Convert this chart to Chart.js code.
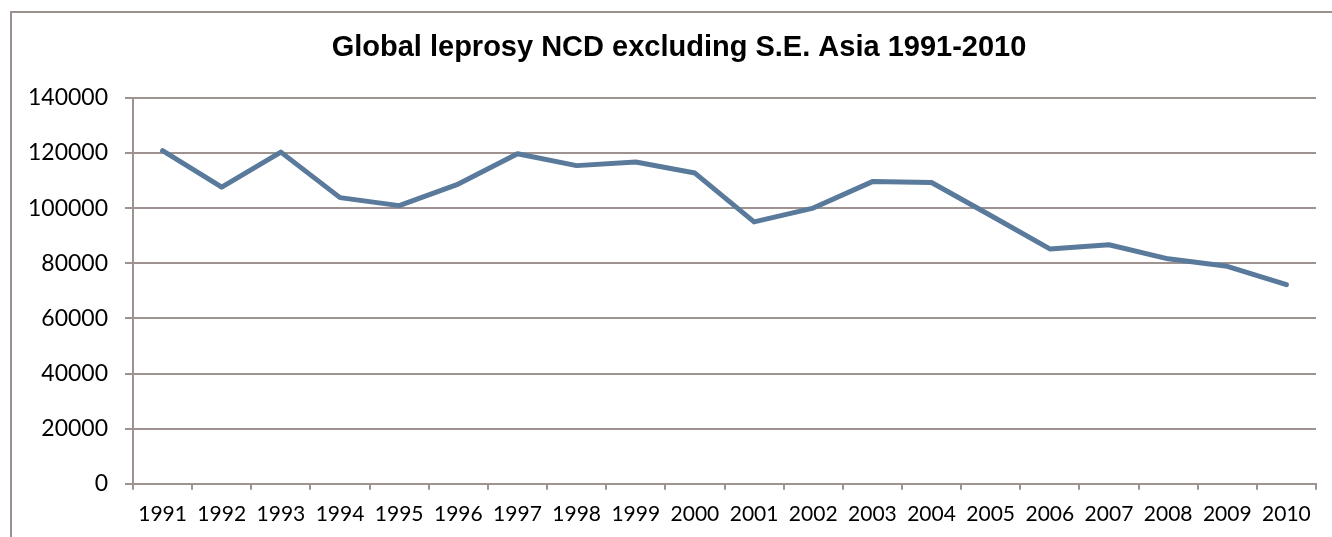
<!DOCTYPE html>
<html>
<head>
<meta charset="utf-8">
<script src="https://cdn.jsdelivr.net/npm/chart.js@4/dist/chart.umd.min.js"></script>
<style>
  html, body { margin: 0; padding: 0; background: #fff; overflow: hidden; }
  #frame {
    position: absolute; left: 10px; top: 11px;
    width: 1338px; height: 540px;
    border: 2px solid #9a908d; box-sizing: border-box;
  }
  #wrap { position: absolute; left: 10px; top: 11px; width: 1338px; height: 540px; }
</style>
</head>
<body>
<div id="frame"></div>
<div id="wrap"><canvas id="chart"></canvas></div>
<script>
// new case detection (NCD), excluding S.E. Asia region
const years = ['1991', '1992', '1993', '1994', '1995', '1996', '1997', '1998', '1999', '2000',
               '2001', '2002', '2003', '2004', '2005', '2006', '2007', '2008', '2009', '2010'];
const ncd = [120800, 107600, 120300, 103800, 100900, 108700, 119700, 115400, 116700, 112700,
             95000, 100000, 109600, 109300, 97300, 85200, 86700, 81600, 78900, 72200];
const yTicks = [0, 20000, 40000, 60000, 80000, 100000, 120000, 140000];

const gridColor = '#9e9390';

var ctx = document.getElementById('chart').getContext('2d');
var chart = new Chart(ctx, {
    type: 'line',
    data: {
        labels: years,
        datasets: [{
            label: 'NCD',
            data: ncd,
            borderColor: '#5a7a9c',
            backgroundColor: '#5a7a9c',
            borderWidth: 5,
            borderJoinStyle: 'round',
            borderCapStyle: 'round',
            pointRadius: 0,
            tension: 0
        }]
    },
    options: {
        responsive: true,
        maintainAspectRatio: false,
        animation: false,
        layout: { padding: { top: 0, right: 0, bottom: 12, left: 0 } },
        plugins: {
            legend: { display: false },
            tooltip: { enabled: false },
            title: {
                display: true,
                text: 'Global leprosy NCD excluding S.E. Asia 1991-2010',
                color: '#000',
                font: { family: 'Liberation Sans, Arial, sans-serif', size: 29, weight: 'bold' },
                padding: { top: 20, bottom: 32 }
            }
        },
        scales: {
            x: {
                offset: true,
                grid: {
                    offset: true,
                    drawOnChartArea: false,
                    drawTicks: true,
                    tickLength: 6,
                    color: gridColor,
                    lineWidth: 2
                },
                border: { display: true, color: gridColor, width: 2 },
                ticks: {
                    color: '#000',
                    padding: 12,
                    maxRotation: 0,
                    autoSkip: false,
                    font: { family: 'Lato, sans-serif', size: 21 }
                }
            },
            y: {
                min: 0,
                max: 140000,
                afterBuildTicks: function (scale) {
                    scale.ticks = yTicks.map(function (v) { return { value: v }; });
                },
                afterFit: function (scale) { scale.width = 123; },
                grid: {
                    color: gridColor,
                    lineWidth: 2,
                    tickLength: 8
                },
                border: { display: true, color: gridColor, width: 2 },
                ticks: {
                    color: '#000',
                    padding: 17,
                    font: { family: 'Lato, sans-serif', size: 23 },
                    callback: function (v) { return String(v); }
                }
            },
            // empty right-hand axis, only reserves the margin right of the plot
            yRight: {
                position: 'right',
                min: 0,
                max: 140000,
                afterFit: function (scale) { scale.width = 32; },
                grid: { drawOnChartArea: false, drawTicks: false },
                border: { display: false },
                ticks: { display: false }
            }
        }
    }
});
</script>
</body>
</html>
